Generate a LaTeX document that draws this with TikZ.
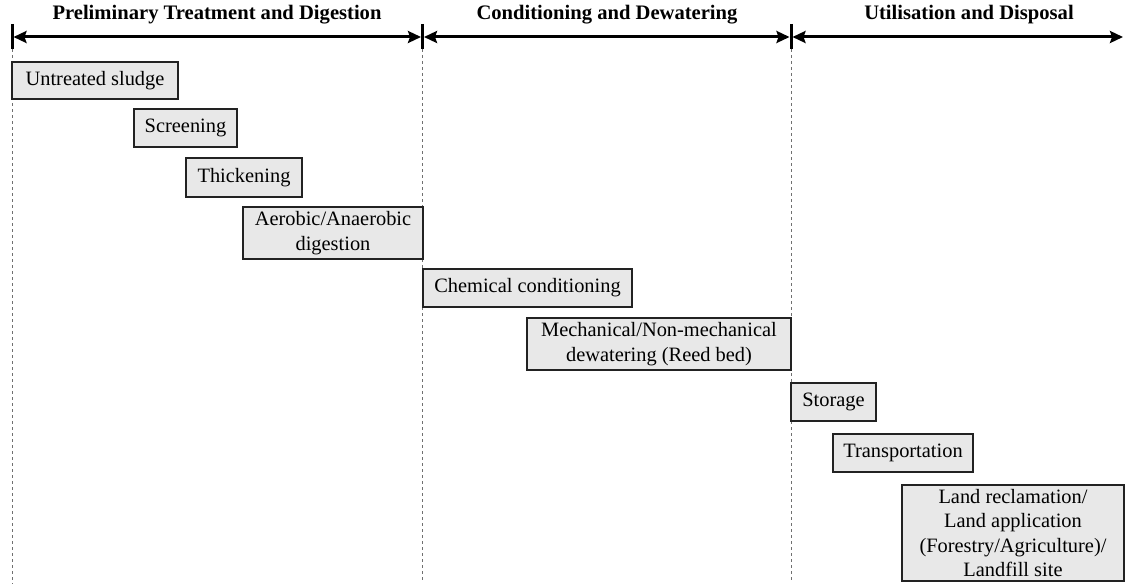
\documentclass[tikz,border=0pt]{standalone}
\usepackage{fontspec}
\setmainfont{Liberation Serif}
\usetikzlibrary{arrows.meta}
\definecolor{boxfill}{HTML}{E8E8E8}
\definecolor{boxline}{HTML}{222222}
\definecolor{guide}{HTML}{707070}
\begin{document}
\begin{tikzpicture}[x=1pt,y=-1pt,
  stage/.style={draw=boxline,line width=1.4pt,fill=boxfill,inner sep=0pt,align=center,
    font=\fontsize{20.4}{24.6}\selectfont},
  phase/.style={font=\fontsize{20.6}{24}\selectfont\bfseries},
  span/.style={line width=3pt,{Stealth[length=13pt,width=12pt,inset=2pt]}-{Stealth[length=13pt,width=12pt,inset=2pt]}},
  tick/.style={line width=3pt},
  guideline/.style={draw=guide,line width=1pt,dash pattern=on 3pt off 3pt}]
\useasboundingbox (0,0) rectangle (1125,586);

% phase boundaries on the time axis
\coordinate (b0) at (12,37);
\coordinate (b1) at (422.5,37);
\coordinate (b2) at (791,37);
\coordinate (b3) at (1123,37);

% dashed guide lines below each boundary
\coordinate (g0) at (12,584);
\coordinate (g1) at (422.5,580);
\coordinate (g2) at (791,580);
\draw[guideline] (b0) ++(0,12) -- (g0);
\draw[guideline] (b1) ++(0,12) -- (g1);
\draw[guideline] (b2) ++(0,12) -- (g2);

% double-headed spans between boundaries
\draw[span] ([xshift=1.5pt]b0) -- ([xshift=-1.5pt]b1);
\draw[span] ([xshift=1.5pt]b1) -- ([xshift=-1.5pt]b2);
\draw[span] ([xshift=1.5pt]b2) -- (b3);

% boundary ticks
\foreach \b in {b0,b1,b2}
  \draw[tick] (\b) ++(0,-13) -- ++(0,25);

% phase titles
\node[phase] (p1) at (217,15) {Preliminary Treatment and Digestion};
\node[phase] (p2) at (607,15) {Conditioning and Dewatering};
\node[phase] (p3) at (969,15) {Utilisation and Disposal};

% treatment stages
\node[stage,minimum width=166pt,minimum height=37pt] (us) at (95,80.5) {Untreated sludge};
\node[stage,minimum width=103pt,minimum height=38pt] (scr) at (185.5,128) {Screening};
\node[stage,minimum width=116pt,minimum height=39pt] (thk) at (244,177.5) {Thickening};
\node[stage,minimum width=180pt,minimum height=52pt] (dig) at (333,233) {Aerobic/Anaerobic\\digestion};
\node[stage,minimum width=209pt,minimum height=38pt] (chem) at (527.5,288) {Chemical conditioning};
\node[stage,minimum width=264pt,minimum height=52pt] (mech) at (659,344) {Mechanical/Non-mechanical\\dewatering (Reed bed)};
\node[stage,minimum width=85pt,minimum height=38pt] (sto) at (833.5,402) {Storage};
\node[stage,minimum width=140pt,minimum height=38pt] (tra) at (903,453) {Transportation};
\node[stage,minimum width=222pt,minimum height=96pt] (land) at (1013,533) {Land reclamation/\\Land application\\(Forestry/Agriculture)/\\Landfill site};
\end{tikzpicture}
\end{document}
